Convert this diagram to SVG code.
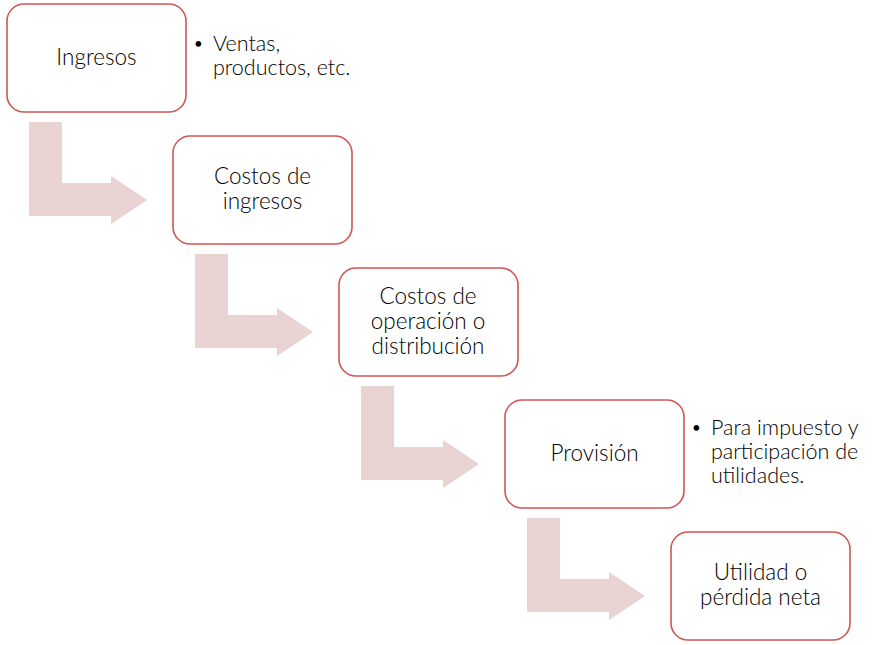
<svg xmlns="http://www.w3.org/2000/svg" width="879" height="645" viewBox="0 0 879 645">
<style>
.box{fill:#FFFFFF;stroke:#CF5753;stroke-width:1.6}
.arr{fill:#E9D3D3;stroke:none}
.t{font-family:Lato,"Open Sans","DejaVu Sans",sans-serif;font-weight:300;font-size:22.5px;fill:#000000;text-anchor:middle}
.b{font-family:Lato,"Open Sans","DejaVu Sans",sans-serif;font-weight:300;font-size:21.5px;fill:#000000}
.d{font-family:Lato,"Open Sans","DejaVu Sans",sans-serif;font-size:15px;fill:#000000}
</style>
<rect width="879" height="645" fill="#FFFFFF"/>
<g id="connectors">
<path class="arr" d="M29,122 H62 V183 H111 V176 L147,200 L111,224 V216 H29 Z"/>
<path class="arr" transform="translate(166,132)" d="M29,122 H62 V183 H111 V176 L147,200 L111,224 V216 H29 Z"/>
<path class="arr" transform="translate(332,264)" d="M29,122 H62 V183 H111 V176 L147,200 L111,224 V216 H29 Z"/>
<path class="arr" transform="translate(498,396)" d="M29,122 H62 V183 H111 V176 L147,200 L111,224 V216 H29 Z"/>
</g>
<g id="node1">
<rect class="box" x="7" y="4" width="179" height="108" rx="17"/>
<text class="t" x="96.5" y="65">Ingresos</text>
</g>
<g id="note1">
<text class="d" x="194" y="49">•</text>
<text class="b" x="213" y="51">Ventas,</text>
<text class="b" x="213" y="75">productos, etc.</text>
</g>
<g id="node2">
<rect class="box" x="173" y="136" width="179" height="108" rx="17"/>
<text class="t" x="262.5" y="184">Costos de</text>
<text class="t" x="262.5" y="209">ingresos</text>
</g>
<g id="node3">
<rect class="box" x="339" y="268" width="179" height="108" rx="17"/>
<text class="t" x="428" y="304">Costos de</text>
<text class="t" x="428" y="329">operación o</text>
<text class="t" x="428" y="354">distribución</text>
</g>
<g id="node4">
<rect class="box" x="505" y="400" width="179" height="108" rx="17"/>
<text class="t" x="594.5" y="461">Provisión</text>
</g>
<g id="note4">
<text class="d" x="692" y="433">•</text>
<text class="b" x="711" y="435">Para impuesto y</text>
<text class="b" x="711" y="459">participación de</text>
<text class="b" x="711" y="483">utilidades.</text>
</g>
<g id="node5">
<rect class="box" x="671" y="532" width="179" height="108" rx="17"/>
<text class="t" x="760.5" y="580">Utilidad o</text>
<text class="t" x="760.5" y="605">pérdida neta</text>
</g>
</svg>
